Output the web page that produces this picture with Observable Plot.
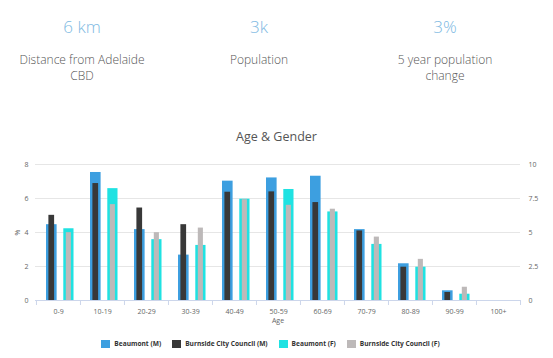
<!DOCTYPE html>
<html>
<head>
<meta charset="utf-8">
<script src="https://cdn.jsdelivr.net/npm/d3@7"></script>
<script src="https://cdn.jsdelivr.net/npm/@observablehq/plot@0.6"></script>
<style>
  html, body { margin: 0; padding: 0; background: #fff; }
  body { width: 553px; height: 358px; position: relative; overflow: hidden; font-family: "Open Sans", sans-serif; }
  .kpi { position: absolute; width: 180px; text-align: center; }
  .kpi .val { position: absolute; left: 0; width: 180px; top: 16px; font-size: 17px; color: #7db9e2; font-weight: 300; line-height: 22px; }
  .kpi .lab { position: absolute; left: 0; width: 180px; top: 52px; font-size: 12px; color: #555; line-height: 16px; font-weight: 300; }
  #title { position: absolute; top: 128px; left: 0; width: 553px; text-align: center; font-size: 12.5px; color: #555; }
  #chart { position: absolute; top: 150px; left: 0; }
  #legend { position: absolute; top: 339px; left: -6px; width: 553px; display: flex; justify-content: center; gap: 11px; font-size: 6.6px; font-weight: bold; color: #333; }
  #legend .item { display: flex; align-items: center; gap: 4px; white-space: nowrap; }
  #legend .sw { width: 9px; height: 8px; }
</style>
</head>
<body>
<div id="kpis"></div>
<div id="title"></div>
<div id="chart"></div>
<div id="legend"></div>
<script>
// ---- data ----
const kpiValues = ["6 km", "3k", "3%"];
const kpiLabels = [["Distance from Adelaide", "CBD"], ["Population"], ["5 year population", "change"]];
const kpiCenters = [82, 259, 445];

const chartTitle = "Age & Gender";
const categories = ["0-9", "10-19", "20-29", "30-39", "40-49", "50-59", "60-69", "70-79", "80-89", "90-99", "100+"];
const beaumontM = [4.46, 7.53, 4.17, 2.67, 7.02, 7.21, 7.31, 4.17, 2.16, 0.57, 0];
const burnsideM = [5.01, 6.88, 5.44, 4.46, 6.37, 6.39, 5.76, 4.09, 1.96, 0.47, 0];
const beaumontF = [4.22, 6.58, 3.58, 3.24, 5.96, 6.53, 5.21, 3.30, 1.96, 0.37, 0];
const burnsideF = [3.99, 5.64, 3.99, 4.26, 5.93, 5.60, 5.37, 3.73, 2.42, 0.78, 0];
const seriesNames = ["Beaumont (M)", "Burnside City Council (M)", "Beaumont (F)", "Burnside City Council (F)"];
const seriesColors = ["#3d9fe0", "#383838", "#1fe2e2", "#bdb9b9"];
const leftTicks = [0, 2, 4, 6, 8];
const rightTickLabels = ["0", "2.5", "5", "7.5", "10"];
const yLabel = "%";
const xLabel = "Age";

// ---- KPIs ----
const kpis = document.getElementById("kpis");
kpiValues.forEach((v, i) => {
  const d = document.createElement("div");
  d.className = "kpi";
  d.style.left = (kpiCenters[i] - 90) + "px";
  d.style.top = "0px";
  const a = document.createElement("div"); a.className = "val"; a.textContent = v;
  const b = document.createElement("div"); b.className = "lab";
  kpiLabels[i].forEach((line, j) => { if (j) b.appendChild(document.createElement("br")); b.appendChild(document.createTextNode(line)); });
  d.appendChild(a); d.appendChild(b);
  kpis.appendChild(d);
});
document.getElementById("title").textContent = chartTitle;

// ---- chart ----
const W = 553, H = 180, mL = 35, mR = 33, mT = 14, mB = 30;
const bw = (W - mL - mR) / categories.length;
const rows = (vals) => categories.map((c, i) => ({cat: c, v: vals[i]}));

const barOpts = (l, r, color) => ({x: "cat", y: "v", fill: color, insetLeft: l, insetRight: bw - r});

const chart = Plot.plot({
  width: W, height: H,
  marginLeft: mL, marginRight: mR, marginTop: mT, marginBottom: mB,
  style: {fontFamily: "Open Sans", fontSize: "7px", color: "#666", background: "transparent"},
  x: {domain: categories, padding: 0},
  y: {domain: [0, 8]},
  marks: [
    Plot.gridY(leftTicks, {stroke: "#e6e6e6", strokeOpacity: 1}),
    Plot.axisY({ticks: leftTicks, tickSize: 0, tickPadding: 7, label: yLabel, labelAnchor: "center", labelArrow: "none", labelOffset: 20}),
    Plot.axisY({anchor: "right", ticks: leftTicks, tickSize: 0, tickPadding: 8, label: null,
      tickFormat: d => rightTickLabels[leftTicks.indexOf(d)]}),
    Plot.axisX({tickSize: 0, tickPadding: 9, label: xLabel, labelAnchor: "center", labelArrow: "none", labelOffset: 22}),
    Plot.barY(rows(beaumontM), barOpts(10, 20.7, seriesColors[0])),
    Plot.barY(rows(burnsideM), barOpts(12.4, 18.2, seriesColors[1])),
    Plot.barY(rows(beaumontF), barOpts(27.3, 37.6, seriesColors[2])),
    Plot.barY(rows(burnsideF), barOpts(29.8, 35, seriesColors[3])),
    Plot.ruleY([0], {stroke: "#ccd6eb"}),
    Plot.ruleX(categories, {x: d => d, dx: -bw / 2, y1: 0, y2: 0, insetBottom: -5, stroke: "#ccd6eb"}),
    Plot.ruleX(categories.slice(-1), {x: d => d, dx: bw / 2, y1: 0, y2: 0, insetBottom: -5, stroke: "#ccd6eb"})
  ]
});
document.getElementById("chart").appendChild(chart);

// ---- legend ----
const legend = document.getElementById("legend");
seriesNames.forEach((n, i) => {
  const it = document.createElement("div"); it.className = "item";
  const sw = document.createElement("div"); sw.className = "sw"; sw.style.background = seriesColors[i];
  const t = document.createElement("span"); t.textContent = n;
  it.appendChild(sw); it.appendChild(t); legend.appendChild(it);
});
</script>
</body>
</html>
